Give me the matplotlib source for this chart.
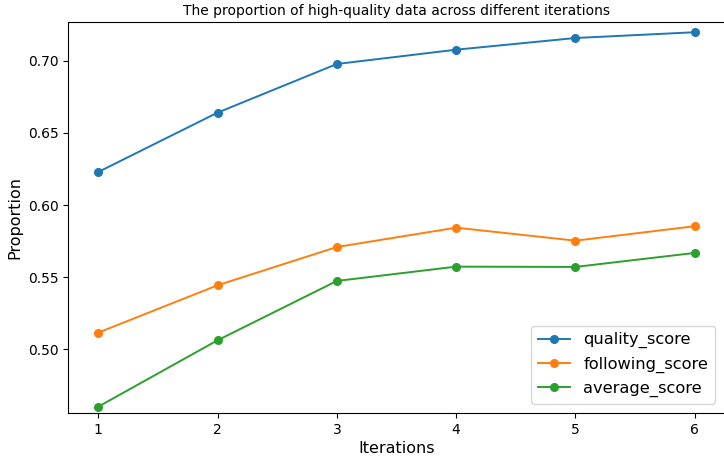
import matplotlib
matplotlib.use('Agg')
import matplotlib.pyplot as plt

iterations = [1, 2, 3, 4, 5, 6]
quality_score = [0.6229, 0.6640, 0.6977, 0.7076, 0.7157, 0.7197]
following_score = [0.5116, 0.5444, 0.5709, 0.5843, 0.5753, 0.5853]
average_score = [0.4603, 0.5063, 0.5474, 0.5573, 0.5571, 0.5668]

fig = plt.figure(figsize=(7.24, 4.58), dpi=100)
ax = fig.add_axes([0.0946, 0.0976, 0.9061, 0.8544])

ax.plot(iterations, quality_score, marker='o', markersize=5.5, linewidth=1.4, label='quality_score')
ax.plot(iterations, following_score, marker='o', markersize=5.5, linewidth=1.4, label='following_score')
ax.plot(iterations, average_score, marker='o', markersize=5.5, linewidth=1.4, label='average_score')

ax.set_xlim(0.75, 6.25)
ax.set_ylim(0.4557, 0.7268)
ax.set_xticks(iterations)
ax.tick_params(labelsize=10)
ax.set_xlabel('Iterations', fontsize=11.5, labelpad=3)
ax.set_ylabel('Proportion', fontsize=11.5)
ax.set_title('The proportion of high-quality data across different iterations', fontsize=10, pad=5)
ax.legend(loc='lower right', fontsize=11.7, borderaxespad=0.6)

fig.savefig('out.png', dpi=100)
